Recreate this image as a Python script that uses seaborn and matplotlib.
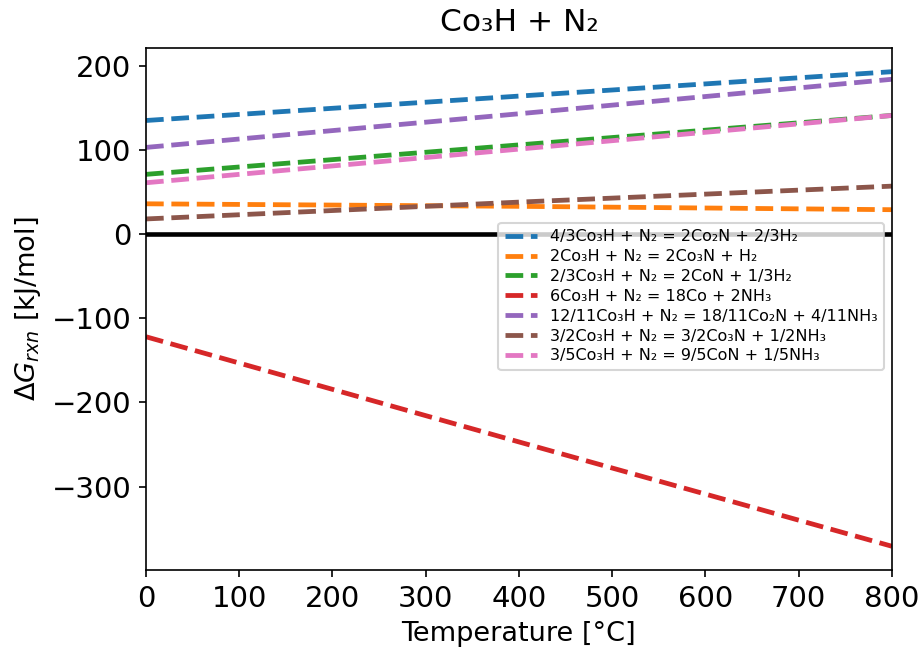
import numpy as np
import pandas as pd
import seaborn as sns
import matplotlib.pyplot as plt

# temperature points (°C) and read-off ΔG values (kJ/mol)
temps = [0, 400, 800]
labels = [
    '4/3Co₃H + N₂ = 2Co₂N + 2/3H₂',
    '2Co₃H + N₂ = 2Co₃N + H₂',
    '2/3Co₃H + N₂ = 2CoN + 1/3H₂',
    '6Co₃H + N₂ = 18Co + 2NH₃',
    '12/11Co₃H + N₂ = 18/11Co₂N + 4/11NH₃',
    '3/2Co₃H + N₂ = 3/2Co₃N + 1/2NH₃',
    '3/5Co₃H + N₂ = 9/5CoN + 1/5NH₃',
]
dg_co2n_h2 = [135, 164, 193]
dg_co3n_h2 = [36, 33, 29]
dg_con_h2 = [71, 106, 141]
dg_co_nh3 = [-122, -247, -371]
dg_co2n_nh3 = [103, 143, 184]
dg_co3n_nh3 = [18, 38, 57]
dg_con_nh3 = [61, 101, 141]

series = [dg_co2n_h2, dg_co3n_h2, dg_con_h2, dg_co_nh3,
          dg_co2n_nh3, dg_co3n_nh3, dg_con_nh3]

rows = []
for lab, vals in zip(labels, series):
    for t, v in zip(temps, vals):
        rows.append({'T': t, 'dG': v, 'rxn': lab})
df = pd.DataFrame(rows)

fig, ax = plt.subplots(figsize=(6.14, 4.38), dpi=150)
sns.lineplot(data=df, x='T', y='dG', hue='rxn', palette='tab10',
             linestyle='--', linewidth=2.3, ax=ax)
ax.axhline(0, color='black', linewidth=2.2)
ax.set_xlim(0, 800)
ax.set_xlabel('Temperature [°C]', fontsize=13)
ax.set_ylabel(r'$\Delta G_{rxn}$ [kJ/mol]', fontsize=13)
ax.set_title('Co₃H + N₂', fontsize=15, pad=8)
ax.tick_params(labelsize=14)
ax.legend(loc='upper right', bbox_to_anchor=(1.0, 0.68), fontsize=7.7,
          labelspacing=0.3, title=None)
for line in ax.get_legend().get_lines():
    line.set_linestyle('--')
fig.subplots_adjust(left=0.1585, right=0.9685, top=0.927, bottom=0.1324)
plt.savefig('out.png', dpi=150)
